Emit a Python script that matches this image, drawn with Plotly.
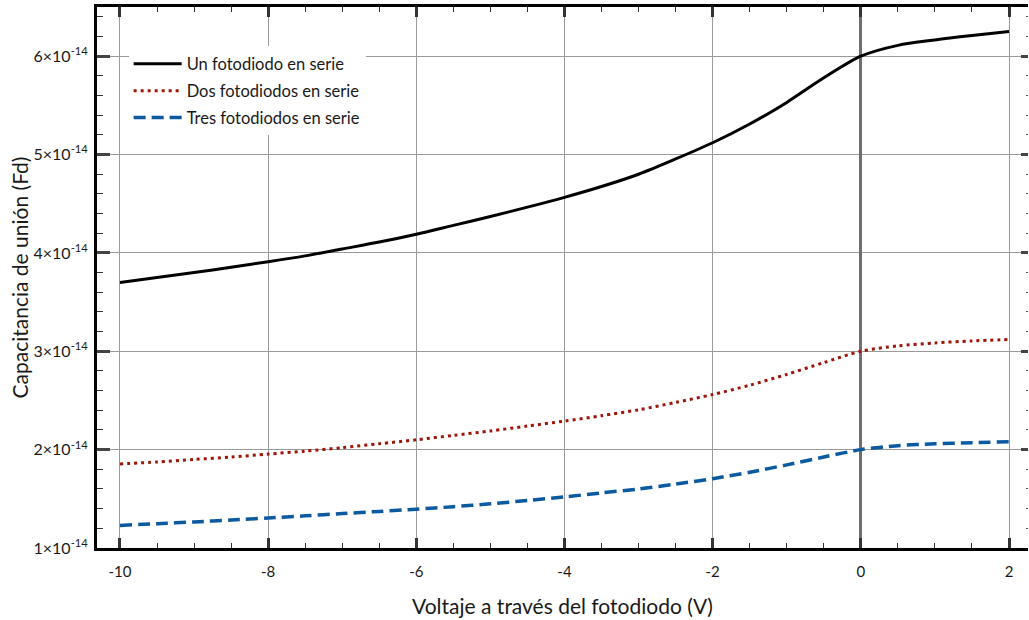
import plotly.graph_objects as go

# Reverse bias voltage across the photodiode (V)
voltaje = [-10, -9.5, -9, -8.5, -8, -7.5, -7, -6.5, -6, -5.5, -5, -4.5, -4, -3.5, -3,
           -2.5, -2, -1.5, -1, -0.5, 0, 0.5, 1, 1.5, 2]

# Junction capacitance, in units of 1e-14 F
un_fotodiodo = [3.70, 3.75, 3.80, 3.855, 3.91, 3.97, 4.04, 4.11, 4.19, 4.28, 4.37, 4.465, 4.565,
                4.675, 4.80, 4.955, 5.12, 5.31, 5.53, 5.78, 6.00, 6.11, 6.165, 6.21, 6.25]
dos_fotodiodos = [1.855, 1.875, 1.90, 1.925, 1.955, 1.985, 2.02, 2.06, 2.10, 2.145, 2.19, 2.24, 2.29,
                  2.345, 2.405, 2.48, 2.56, 2.655, 2.765, 2.885, 3.00, 3.055, 3.085, 3.105, 3.12]
tres_fotodiodos = [1.23, 1.247, 1.265, 1.285, 1.305, 1.327, 1.35, 1.372, 1.395, 1.42, 1.45, 1.483, 1.52,
                   1.56, 1.60, 1.65, 1.705, 1.77, 1.845, 1.925, 2.00, 2.04, 2.06, 2.07, 2.08]

ESCALA = 1e-14
x_ticks = [-10, -8, -6, -4, -2, 0, 2]
x_ticktext = [str(v) for v in x_ticks]
y_ticks = [1, 2, 3, 4, 5, 6]
y_ticktext = [f"{v}×10<sup>-14</sup>" for v in y_ticks]

FONT = "Lato"
TEXT = "#1a1a1a"

series = [
    ("Un fotodiodo en serie", un_fotodiodo, dict(color="#000000", width=3, dash="solid")),
    ("Dos fotodiodos en serie", dos_fotodiodos, dict(color="#9e1408", width=3, dash="3px,4px")),
    ("Tres fotodiodos en serie", tres_fotodiodos, dict(color="#0b5aa0", width=3.5, dash="12px,6px")),
]

fig = go.Figure()
for i, (name, vals, line) in enumerate(series):
    fig.add_trace(go.Scatter(
        x=voltaje, y=[v * ESCALA for v in vals], mode="lines", name=name,
        line=dict(shape="spline", smoothing=0.8, **line), legendgroup=f"g{i}",
    ))

# Invisible trace on a mirrored y axis to carry the right-hand tick marks
fig.add_trace(go.Scatter(x=[voltaje[0]], y=[un_fotodiodo[0] * ESCALA], yaxis="y2",
                         mode="markers", marker=dict(opacity=0), showlegend=False,
                         hoverinfo="skip"))

y_range = [1 * ESCALA, 6.5 * ESCALA]

fig.update_layout(
    width=1029, height=620,
    margin=dict(l=97, r=1, t=7, b=72),
    paper_bgcolor="white", plot_bgcolor="white",
    font=dict(family=FONT, size=15, color=TEXT),
    showlegend=True,
    legend=dict(
        x=0.034, y=0.927, xanchor="left", yanchor="top",
        bgcolor="white", borderwidth=0,
        font=dict(family=FONT, size=16.5, color=TEXT),
        itemwidth=48, tracegroupgap=2.5,
    ),
    xaxis=dict(
        range=[-10.31, 2.256], tickvals=x_ticks, ticktext=x_ticktext,
        showgrid=True, gridcolor="#9a9a9a", gridwidth=1,
        zeroline=True, zerolinecolor="#6e6e6e", zerolinewidth=2.5,
        showline=True, linecolor="#000000", linewidth=3, mirror="ticks",
        ticks="inside", ticklen=10, tickwidth=2.5, tickcolor="#333333",
        ticklabelstandoff=8,
        minor=dict(dtick=0.5, ticks="inside", ticklen=5, tickwidth=1, tickcolor="#333333", showgrid=False),
        tickfont=dict(family=FONT, size=15, color=TEXT),
        title=dict(text="Voltaje a través del fotodiodo (V)", standoff=21,
                   font=dict(family=FONT, size=21, color=TEXT)),
    ),
    yaxis=dict(
        range=y_range, tickvals=[v * ESCALA for v in y_ticks], ticktext=y_ticktext,
        showgrid=True, gridcolor="#9a9a9a", gridwidth=1, zeroline=False,
        showline=True, linecolor="#000000", linewidth=3, mirror=False,
        ticks="inside", ticklen=13, tickwidth=3, tickcolor="#444444",
        ticklabelstandoff=3,
        minor=dict(dtick=0.2 * ESCALA, tick0=0, ticks="inside", ticklen=6, tickwidth=1.2, tickcolor="#333333", showgrid=False),
        tickfont=dict(family=FONT, size=16, color=TEXT),
        title=dict(text="Capacitancia de unión (Fd)", standoff=0,
                   font=dict(family=FONT, size=21, color=TEXT)),
    ),
    yaxis2=dict(
        overlaying="y", side="right", range=y_range,
        tickvals=[v * ESCALA for v in y_ticks], showticklabels=False,
        showgrid=False, zeroline=False, showline=False,
        ticks="inside", ticklen=7, tickwidth=3, tickcolor="#444444",
        minor=dict(dtick=0.2 * ESCALA, tick0=0, ticks="inside", ticklen=2, tickwidth=1, tickcolor="#555555"),
    ),
)

fig.write_html("out.html")
